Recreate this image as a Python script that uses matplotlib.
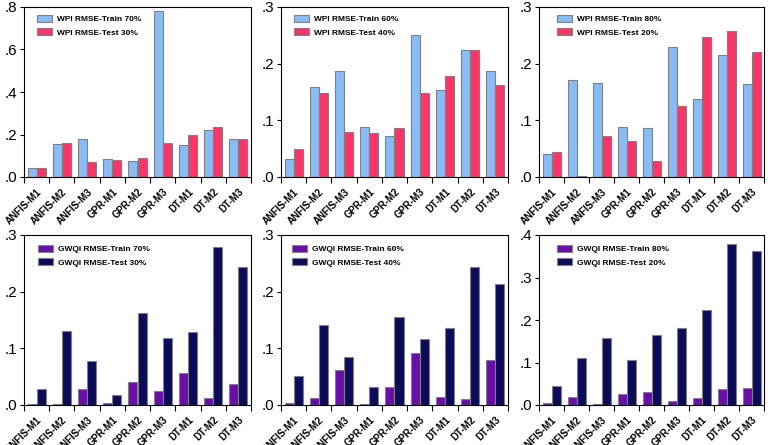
import numpy as np
import matplotlib
matplotlib.use("Agg")
import matplotlib.pyplot as plt
from matplotlib.ticker import FuncFormatter, FixedLocator

plt.rcParams['font.family'] = ['Liberation Sans', 'DejaVu Sans']

models = ['ANFIS-M1', 'ANFIS-M2', 'ANFIS-M3', 'GPR-M1', 'GPR-M2', 'GPR-M3',
          'DT-M1', 'DT-M2', 'DT-M3']

# WPI (top row)
wpi_train70 = [0.042, 0.155, 0.178, 0.086, 0.075, 0.780, 0.150, 0.220, 0.178]
wpi_test30 = [0.042, 0.160, 0.070, 0.078, 0.089, 0.161, 0.197, 0.237, 0.177]
wpi_train60 = [0.032, 0.158, 0.187, 0.088, 0.072, 0.250, 0.153, 0.225, 0.187]
wpi_test40 = [0.050, 0.149, 0.079, 0.077, 0.087, 0.149, 0.179, 0.224, 0.163]
wpi_train80 = [0.040, 0.171, 0.166, 0.088, 0.087, 0.230, 0.138, 0.216, 0.165]
wpi_test20 = [0.044, 0.002, 0.073, 0.064, 0.028, 0.125, 0.247, 0.258, 0.221]

# GWQI (bottom row)
gwqi_train70 = [0.001, 0.001, 0.029, 0.003, 0.041, 0.024, 0.056, 0.013, 0.037]
gwqi_test30 = [0.029, 0.131, 0.077, 0.017, 0.162, 0.118, 0.129, 0.279, 0.243]
gwqi_train60 = [0.0035, 0.012, 0.061, 0.001, 0.031, 0.092, 0.014, 0.010, 0.079]
gwqi_test40 = [0.051, 0.141, 0.085, 0.031, 0.156, 0.117, 0.136, 0.243, 0.213]
gwqi_train80 = [0.004, 0.019, 0.0015, 0.026, 0.031, 0.009, 0.016, 0.037, 0.039]
gwqi_test20 = [0.044, 0.111, 0.158, 0.107, 0.165, 0.182, 0.224, 0.380, 0.363]

panels = [
    (wpi_train70, wpi_test30, 'WPI RMSE-Train 70%', 'WPI RMSE-Test 30%', 0.8, 0.2),
    (wpi_train60, wpi_test40, 'WPI RMSE-Train 60%', 'WPI RMSE-Test 40%', 0.3, 0.1),
    (wpi_train80, wpi_test20, 'WPI RMSE-Train 80%', 'WPI RMSE-Test 20%', 0.3, 0.1),
    (gwqi_train70, gwqi_test30, 'GWQI RMSE-Train 70%', 'GWQI RMSE-Test 30%', 0.3, 0.1),
    (gwqi_train60, gwqi_test40, 'GWQI RMSE-Train 60%', 'GWQI RMSE-Test 40%', 0.3, 0.1),
    (gwqi_train80, gwqi_test20, 'GWQI RMSE-Train 80%', 'GWQI RMSE-Test 20%', 0.4, 0.1),
]

W, H = 768, 445
fig = plt.figure(figsize=(W / 100, H / 100), dpi=100)

# axes boxes in pixels: left, right, top, bottom
lefts = [24, 281, 539]
rights = [251, 508, 764]
tops = [7, 235]
bottoms = [177, 405]
# legend offsets from the axes' top-left corner, pixels
leg_dx = [13, 13, 18, 14, 11, 18]
leg_dy = [4.5, 4.5, 4.5, 6.5, 6.5, 6.5]

x = np.arange(len(models))
bw = 0.36

for i, (tr, te, ltr, lte, ymax, step) in enumerate(panels):
    r, c = divmod(i, 3)
    aw = rights[c] - lefts[c]
    ah = bottoms[r] - tops[r]
    ax = fig.add_axes([lefts[c] / W, 1 - bottoms[r] / H, aw / W, ah / H])
    if r == 0:
        c1, c2 = '#88BCF7', '#FF3366'
    else:
        c1, c2 = '#6A0DAD', '#0B0B5C'
    ax.bar(x - bw / 2, tr, bw, color=c1, edgecolor='#808080', linewidth=0.8, label=ltr)
    ax.bar(x + bw / 2, te, bw, color=c2, edgecolor='#808080', linewidth=0.8, label=lte)
    ax.set_xlim(-0.5, len(models) - 0.5)
    ax.set_ylim(0, ymax)
    ax.set_yticks(np.arange(0, ymax + 1e-9, step))
    ax.yaxis.set_major_formatter(FuncFormatter(lambda v, p: f"{v:.1f}"[1:]))
    ax.tick_params(axis='y', labelsize=11, length=3, width=0.8, pad=2)

    ax.xaxis.set_major_locator(FixedLocator(np.arange(-0.5, len(models), 1.0)))
    ax.xaxis.set_major_formatter(FuncFormatter(lambda v, p: ''))
    ax.set_xticks(x, minor=True)
    ax.set_xticklabels(models, minor=True, rotation=45, ha='right',
                       rotation_mode='anchor', fontsize=7, fontweight='bold')
    ax.tick_params(axis='x', which='major', length=4, width=0.8)
    ax.tick_params(axis='x', which='minor', length=0, pad=7)
    for s in ax.spines.values():
        s.set_linewidth(0.8)

    ax.legend(loc='upper left', frameon=False,
              bbox_to_anchor=((leg_dx[i] - 3.3) / aw, 1 - leg_dy[i] / ah),
              borderaxespad=0, handlelength=1.8, handleheight=1.0,
              handletextpad=0.6, labelspacing=0.55,
              prop={'weight': 'bold', 'size': 6})

fig.savefig('out.png', dpi=100)
